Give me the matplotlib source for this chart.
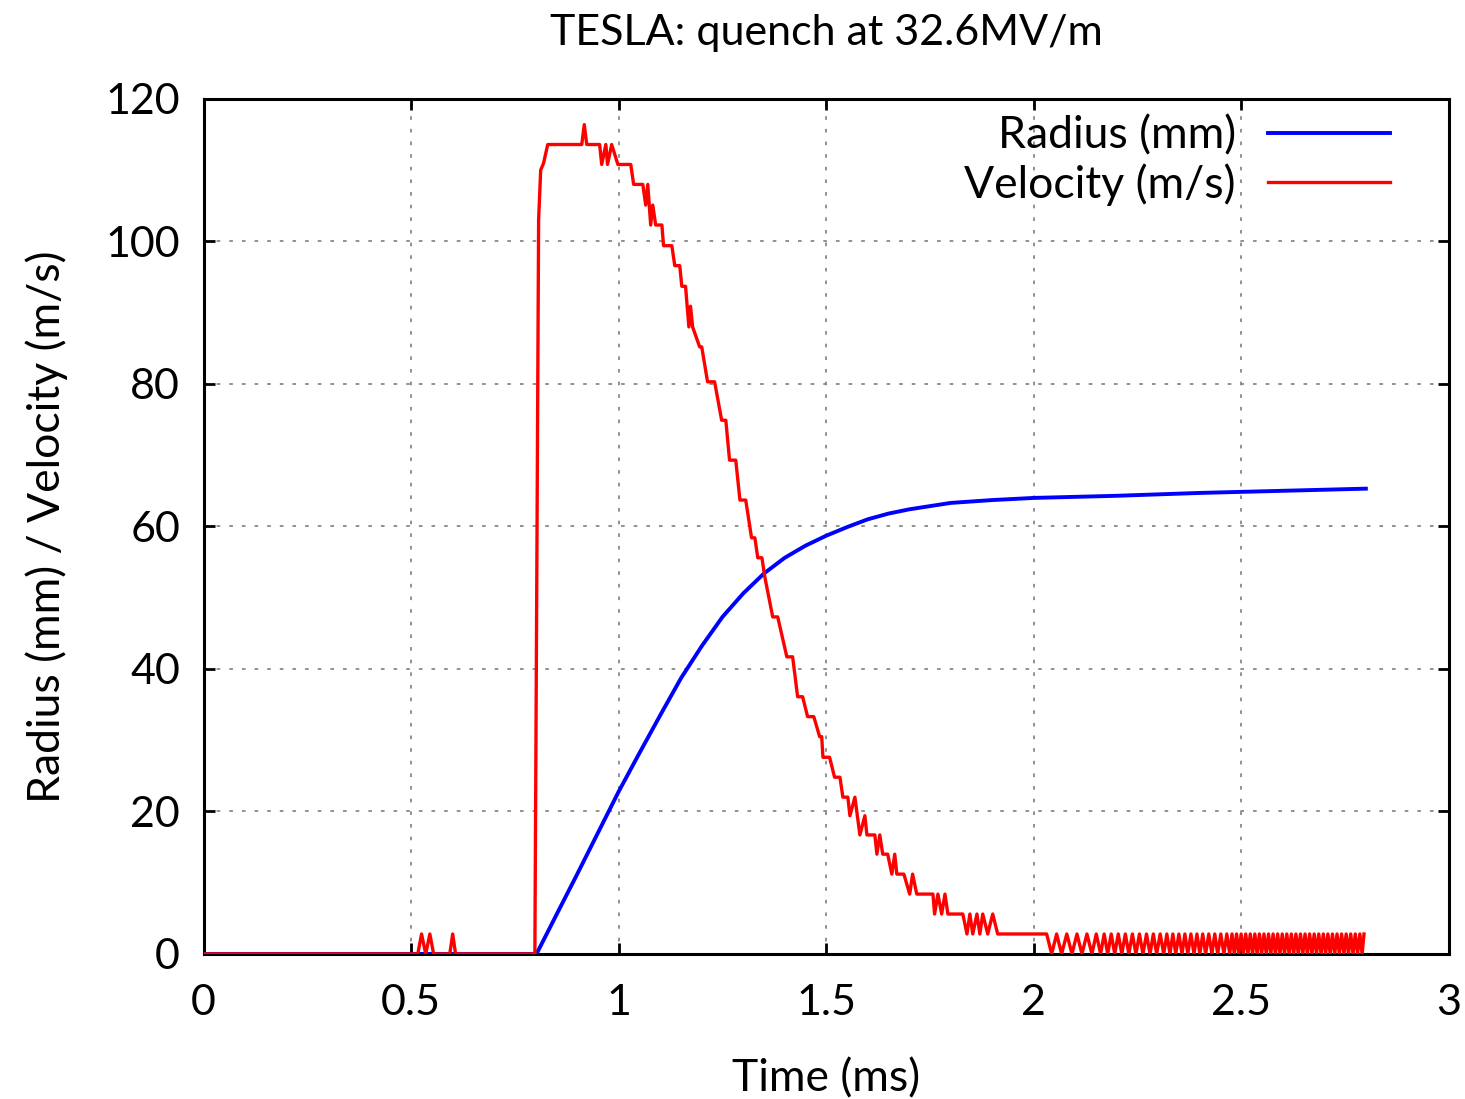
import matplotlib
matplotlib.use("Agg")
import matplotlib.pyplot as plt
import numpy as np

plt.rcParams['font.family'] = ['Lato', 'DejaVu Sans']

# radius (mm) vs time (ms)
r_time = [0.0, 0.802, 0.85, 0.90, 0.95, 1.00, 1.05, 1.10, 1.15, 1.20, 1.25,
          1.30, 1.35, 1.40, 1.45, 1.50, 1.55, 1.60, 1.65, 1.70, 1.80, 1.90,
          2.00, 2.20, 2.40, 2.60, 2.80]
r_val = [0.0, 0.0, 5.5, 11.2, 17.0, 22.8, 28.2, 33.5, 38.7, 43.2, 47.3,
         50.6, 53.4, 55.6, 57.3, 58.7, 59.9, 61.0, 61.8, 62.4, 63.3, 63.7,
         64.0, 64.3, 64.7, 65.0, 65.3]

# velocity (m/s) vs time (ms), stepwise readout
v_time = [0.0, 0.516, 0.525, 0.535, 0.545, 0.554, 0.593, 0.600, 0.607,
          0.798, 0.807, 0.812, 0.819, 0.829, 0.911, 0.917, 0.923, 0.954,
          0.959, 0.969, 0.973, 0.983, 0.998, 1.029, 1.036, 1.058, 1.065,
          1.070, 1.077, 1.082, 1.089, 1.104, 1.108, 1.128, 1.135, 1.147,
          1.152, 1.161, 1.169, 1.173, 1.178, 1.195, 1.200, 1.214, 1.231,
          1.248, 1.258, 1.267, 1.282, 1.292, 1.306, 1.320, 1.328, 1.335,
          1.345, 1.352, 1.371, 1.383, 1.405, 1.419, 1.431, 1.443, 1.455,
          1.470, 1.484, 1.489, 1.492, 1.508, 1.520, 1.533, 1.540, 1.552,
          1.557, 1.569, 1.581, 1.593, 1.598, 1.617, 1.622, 1.629, 1.636,
          1.648, 1.658, 1.665, 1.670, 1.687, 1.701, 1.708, 1.718, 1.757,
          1.761, 1.769, 1.778, 1.786, 1.793, 1.829, 1.839, 1.846, 1.853,
          1.863, 1.870, 1.877, 1.889, 1.901, 1.913, 2.031]
v_val = [0.0, 0.0, 2.8, 0.0, 2.8, 0.0, 0.0, 2.8, 0.0,
         0.0, 103.0, 110.0, 111.0, 113.6, 113.6, 116.4, 113.6, 113.6,
         110.8, 113.6, 110.8, 113.6, 110.8, 110.8, 108.0, 108.0, 105.1,
         108.0, 102.3, 105.1, 102.3, 102.3, 99.4, 99.4, 96.6, 96.6,
         93.7, 93.7, 88.0, 90.9, 88.0, 85.2, 85.2, 80.3, 80.3,
         74.9, 74.9, 69.3, 69.3, 63.7, 63.7, 58.4, 58.4, 55.6,
         55.6, 52.9, 47.3, 47.3, 41.7, 41.7, 36.1, 36.1, 33.3,
         33.3, 30.5, 30.5, 27.6, 27.6, 24.8, 24.8, 22.0, 22.0,
         19.4, 22.0, 16.7, 19.4, 16.7, 16.7, 14.0, 16.7, 14.0,
         14.0, 11.2, 14.0, 11.2, 11.2, 8.4, 11.2, 8.4, 8.4,
         5.6, 8.4, 5.6, 8.4, 5.6, 5.6, 2.8, 5.6, 2.8,
         5.6, 2.8, 5.6, 2.8, 5.6, 2.8, 2.8]

# times where the velocity drops to zero in the late noisy tail
v_dips = [2.043, 2.067, 2.092, 2.116, 2.140, 2.161, 2.178, 2.195, 2.212, 2.229,
          2.246, 2.263, 2.280, 2.296, 2.313, 2.328, 2.342, 2.357, 2.371, 2.386,
          2.400, 2.414, 2.429, 2.443, 2.458, 2.472, 2.483, 2.494, 2.505, 2.516,
          2.527, 2.538, 2.549, 2.560, 2.571, 2.582, 2.593, 2.604, 2.615, 2.626,
          2.637, 2.648, 2.659, 2.670, 2.681, 2.692, 2.703, 2.714, 2.725, 2.736,
          2.747, 2.758, 2.769, 2.780, 2.791]
v_top = 2.8
v_end = 2.80

tail_t, tail_v = [], []
for i, d in enumerate(v_dips):
    tail_t.append(d)
    tail_v.append(0.0)
    nxt = v_dips[i + 1] if i + 1 < len(v_dips) else v_end
    tail_t.append((d + nxt) / 2)
    tail_v.append(v_top)

vt = v_time + tail_t
vv = v_val + tail_v

fig = plt.figure(figsize=(14.65, 10.99), dpi=100)
ax = fig.add_axes([0.139, 0.132, 0.850, 0.778])

ax.plot(r_time, r_val, color='#0000ff', lw=2.8, label='Radius (mm)', zorder=3)
ax.plot(vt, vv, color='#ff0000', lw=2.4, label='Velocity (m/s)', zorder=4)

ax.set_xlim(0, 3)
ax.set_ylim(0, 120)
ax.set_xticks([0, 0.5, 1, 1.5, 2, 2.5, 3])
ax.set_xticklabels(['0', '0.5', '1', '1.5', '2', '2.5', '3'])
ax.set_yticks(range(0, 121, 20))

ax.grid(True, color='#888888', ls=(0, (2, 5)), lw=1.3)
ax.tick_params(direction='in', length=8, width=2, top=True, right=True,
               labelsize=31)
ax.tick_params(axis='x', pad=22)
ax.tick_params(axis='y', pad=17)
for s in ax.spines.values():
    s.set_linewidth(2.2)

ax.set_xlabel('Time (ms)', fontsize=32, labelpad=26)
ax.set_ylabel('Radius (mm) / Velocity (m/s)', fontsize=32, labelpad=27)
ax.set_title('TESLA: quench at 32.6MV/m', fontsize=31, pad=39)

leg = ax.legend(loc='upper right', bbox_to_anchor=(0.9526, 0.981), fontsize=32,
                markerfirst=False, frameon=False, handlelength=2.75,
                handletextpad=0.72, labelspacing=0.15, borderaxespad=0,
                borderpad=0)

fig.savefig('out.png', dpi=100)
